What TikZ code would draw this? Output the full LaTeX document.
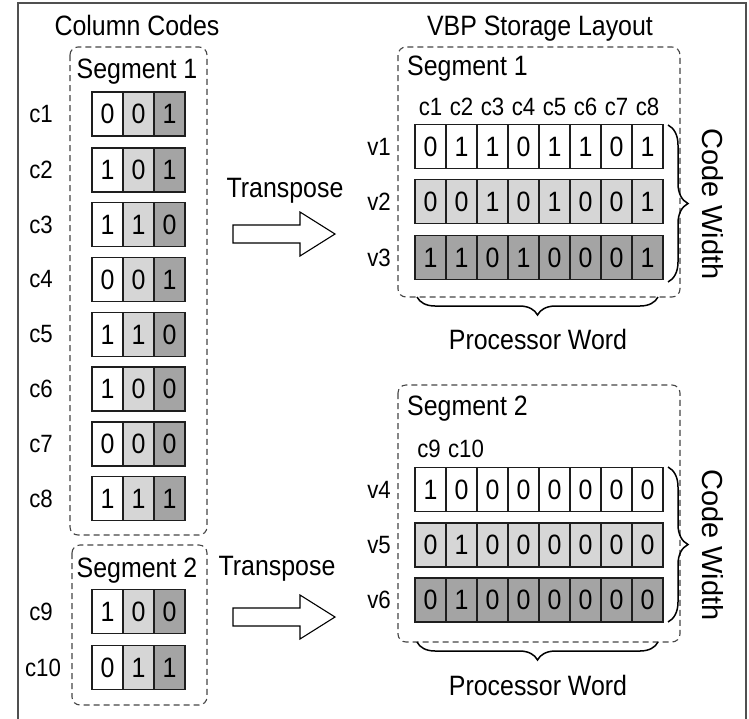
\documentclass[tikz,border=0pt]{standalone}
\usepackage{fontspec}
\setmainfont{Liberation Sans}[FakeStretch=0.89]
\newfontfamily\widefont{Liberation Sans}
\usetikzlibrary{decorations.pathreplacing}

\definecolor{lightcell}{HTML}{D6D6D6}
\definecolor{darkcell}{HTML}{A4A4A4}
\definecolor{cellline}{HTML}{1E1E1E}
\definecolor{segline}{HTML}{454545}
\definecolor{framecol}{HTML}{505050}

\newcommand\txtfont{\fontsize{28}{32}\selectfont}
\newcommand\lblfont{\fontsize{25}{29}\selectfont}

\begin{document}
\begin{tikzpicture}[x=1pt,y=-1pt,
  cell/.style={draw=cellline, line width=1.4pt, minimum width=31pt,
               minimum height=44pt, inner sep=0pt, font=\txtfont},
  wcell/.style={cell, fill=white},
  lcell/.style={cell, fill=lightcell},
  dcell/.style={cell, fill=darkcell},
  segbox/.style={draw=segline, line width=1.1pt, dash pattern=on 6pt off 4pt,
                 rounded corners=8pt},
  txt/.style={font=\txtfont, inner sep=0pt, anchor=base},
  lbl/.style={font=\lblfont, inner sep=0pt},
  bracket/.style={draw=black, line width=1.5pt,
                  decorate, decoration={brace, amplitude=#1}},
  blockarrow/.style={draw=black, line width=1.1pt, fill=white, line join=miter}
]
\useasboundingbox (0,0) rectangle (749,718);

% outer frame (open at the bottom edge)
\draw[framecol, line width=2pt] (18,730) -- (18,3) -- (746,3) -- (746,730);

% ---------- left half: column codes ----------
\node[txt] (titleL) at (137,35) {Column Codes};

\draw[segbox] (70,47) rectangle (207,535);
\node[txt] (segL1) at (137,78) {Segment 1};
\draw[segbox] (72,545) rectangle (207,705);
\node[txt] (segL2) at (137,577) {Segment 2};

\foreach \nm/\y/\a/\b/\c in {c1/114/0/0/1, c2/170/1/0/1, c3/224.5/1/1/0,
    c4/279.5/0/0/1, c5/334.5/1/1/0, c6/389/1/0/0, c7/444/0/0/0,
    c8/498.5/1/1/1, c9/611.5/1/0/0, c10/667.5/0/1/1} {
  \node[wcell] (\nm-1) at (107.5,\y) {\a};
  \node[lcell] (\nm-2) at (138.5,\y) {\b};
  \node[dcell] (\nm-3) at (169.5,\y) {\c};
}
\foreach \nm/\x in {c1/41,c2/41,c3/41,c4/41,c5/41,c6/41,c7/41,c8/41,c9/41,c10/43} {
  \node[lbl] (lab-\nm) at (\x,0 |- \nm-1) {\nm};
}

% ---------- transpose arrows ----------
\node[txt] (tp1) at (285,197) {Transpose};
\coordinate (ar1) at (233,234);
\draw[blockarrow] (ar1) ++(0,-9) -- ++(67,0) -- ++(0,-13) -- ++(35,22)
   -- ++(-35,22) -- ++(0,-13) -- ++(-67,0) -- cycle;

\node[txt] (tp2) at (277,575) {Transpose};
\coordinate (ar2) at (233,617);
\draw[blockarrow] (ar2) ++(0,-9) -- ++(67,0) -- ++(0,-13) -- ++(35,22)
   -- ++(-35,22) -- ++(0,-13) -- ++(-67,0) -- cycle;

% ---------- right half: VBP storage layout ----------
\node[txt] (titleR) at (540,35) {VBP Storage Layout};

\draw[segbox] (398,47) rectangle (680,297);
\node[txt, anchor=base west] (segR1) at (407,75) {Segment 1};
\draw[segbox] (398,385) rectangle (680,642);
\node[txt, anchor=base west] (segR2) at (407,415) {Segment 2};

\foreach \k in {1,...,8} {
  \node[lbl, anchor=base] (hd\k) at (399.5+31*\k,115) {c\k};
}
\node[lbl, anchor=base] (hd9) at (429,457) {c9};
\node[lbl, anchor=base] (hd10) at (466,457) {c10};

\foreach \nm/\y/\sty/\bits in {v1/146.5/wcell/{0,1,1,0,1,1,0,1},
    v2/201.5/lcell/{0,0,1,0,1,0,0,1}, v3/257.5/dcell/{1,1,0,1,0,0,0,1},
    v4/489.5/wcell/{1,0,0,0,0,0,0,0}, v5/545/lcell/{0,1,0,0,0,0,0,0},
    v6/600/dcell/{0,1,0,0,0,0,0,0}} {
  \foreach \bit [count=\k] in \bits {
    \node[\sty] (\nm-\k) at (399.5+31*\k,\y) {\bit};
  }
  \node[lbl, anchor=east] (lab-\nm) at (391,0 |- \nm-1) {\nm};
}

% braces: code width and processor word
\draw[bracket=20pt] (668,125) -- (668,282);
\node[font=\widefont\fontsize{29}{33}\selectfont, rotate=-90, inner sep=0pt]
  (cw1) at (713,204) {Code Width};
\draw[bracket=18pt] (658,297) -- (417,297);
\node[txt] (pw1) at (538,349) {Processor Word};

\draw[bracket=20pt] (668,467) -- (668,622);
\node[font=\widefont\fontsize{29}{33}\selectfont, rotate=-90, inner sep=0pt]
  (cw2) at (713,545) {Code Width};
\draw[bracket=18pt] (658,642) -- (417,642);
\node[txt] (pw2) at (538,695) {Processor Word};

\end{tikzpicture}
\end{document}
